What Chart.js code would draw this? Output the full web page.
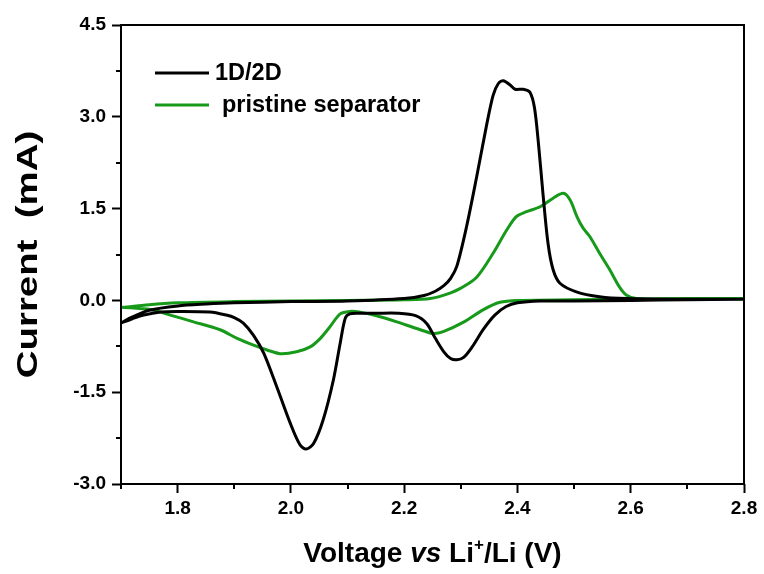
<!DOCTYPE html>
<html><head><meta charset="utf-8">
<script src="https://cdn.jsdelivr.net/npm/chart.js@4.4.1/dist/chart.umd.min.js"></script>
<style>html,body{margin:0;padding:0;background:#fff}#wrap{width:764px;height:574px;position:relative}</style>
</head><body><div id="wrap"><canvas id="c" width="764" height="574"></canvas></div>
<script>
// ---- data ----
const seriesLabels = ['1D/2D', 'pristine separator'];
const seriesColors = ['#000000', '#17991a'];

// 1D/2D : anodic sweep 1.7 -> 2.8, then cathodic sweep 2.8 -> 1.7
const voltage1D2D = [1.70,1.72,1.75,1.80,1.85,1.90,2.00,2.10,2.20,2.235,2.255,2.270,2.282,2.293,2.310,2.328,2.345,2.357,2.366,2.375,2.387,2.396,2.410,2.422,2.430,2.437,2.445,2.454,2.463,2.475,2.504,2.545,2.592,2.70,2.80,
  2.70,2.60,2.50,2.44,2.40,2.38,2.36,2.34,2.32,2.305,2.293,2.282,2.27,2.255,2.24,2.22,2.19,2.15,2.12,2.104,2.096,2.087,2.075,2.057,2.040,2.027,2.016,1.999,1.975,1.952,1.934,1.916,1.90,1.886,1.857,1.80,1.77,1.74,1.72,1.70];
const current1D2D = [-0.37,-0.27,-0.16,-0.09,-0.06,-0.04,-0.02,-0.01,0.03,0.08,0.15,0.24,0.36,0.56,1.20,2.02,2.84,3.35,3.54,3.59,3.52,3.45,3.45,3.40,3.15,2.57,1.75,0.93,0.50,0.28,0.14,0.06,0.03,0.02,0.02,
  0.01,0.00,-0.01,-0.01,-0.04,-0.10,-0.24,-0.47,-0.76,-0.93,-0.97,-0.95,-0.84,-0.62,-0.38,-0.25,-0.21,-0.21,-0.21,-0.22,-0.29,-0.70,-1.30,-1.95,-2.34,-2.43,-2.36,-2.01,-1.41,-0.86,-0.57,-0.37,-0.28,-0.24,-0.19,-0.18,-0.19,-0.24,-0.30,-0.37];

// pristine separator
const voltagePristine = [1.70,1.75,1.80,1.90,2.00,2.10,2.20,2.246,2.281,2.300,2.328,2.357,2.381,2.398,2.416,2.440,2.463,2.481,2.493,2.505,2.516,2.528,2.545,2.563,2.580,2.592,2.610,2.70,2.80,
  2.70,2.60,2.50,2.40,2.369,2.340,2.304,2.269,2.251,2.222,2.187,2.151,2.120,2.104,2.087,2.069,2.052,2.034,2.010,1.981,1.958,1.934,1.905,1.875,1.828,1.787,1.752,1.70];
const currentPristine = [-0.12,-0.07,-0.04,-0.02,-0.01,0.00,0.01,0.03,0.12,0.20,0.38,0.77,1.15,1.37,1.45,1.53,1.67,1.75,1.64,1.37,1.18,1.04,0.77,0.50,0.22,0.09,0.03,0.03,0.03,
  0.03,0.02,0.01,0.00,-0.03,-0.15,-0.36,-0.51,-0.54,-0.46,-0.35,-0.25,-0.19,-0.18,-0.22,-0.43,-0.62,-0.76,-0.84,-0.87,-0.81,-0.73,-0.62,-0.48,-0.35,-0.24,-0.15,-0.11];

const xTickLabels = ['1.8','2.0','2.2','2.4','2.6','2.8'];
const yTickLabels = ['-3.0','-1.5','0.0','1.5','3.0','4.5'];
const yAxisTitle = 'Current  (mA)';
const xAxisTitleParts = [
  {text: 'Voltage ', style: 'normal'},
  {text: 'vs', style: 'italic'},
  {text: ' Li', style: 'normal'},
  {text: '+', style: 'sup'},
  {text: '/Li (V)', style: 'normal'}
];

// ---- build ----
const toPoints = (xs, ys) => xs.map((v, i) => ({x: v, y: ys[i]}));
const FONT = '"Liberation Sans", Arial, sans-serif';
const fmt = v => (Math.abs(v) < 1e-9 ? 0 : v).toFixed(1);
const isMajorX = v => xTickLabels.includes(fmt(v));
const isMajorY = v => yTickLabels.includes(fmt(v));

const decorPlugin = {
  id: 'decor',
  afterDraw(chart) {
    const {ctx, chartArea: a, scales} = chart;
    ctx.save();
    ctx.strokeStyle = '#000';
    ctx.lineWidth = 2;
    ctx.strokeRect(a.left, a.top, a.right - a.left, a.bottom - a.top);
    // minor ticks
    ctx.beginPath();
    scales.x.ticks.forEach((t, i) => {
      if (!isMajorX(t.value)) {
        const px = Math.round(scales.x.getPixelForTick(i));
        ctx.moveTo(px, a.bottom); ctx.lineTo(px, a.bottom + 5);
      }
    });
    scales.y.ticks.forEach((t, i) => {
      if (!isMajorY(t.value)) {
        const py = Math.round(scales.y.getPixelForTick(i));
        ctx.moveTo(a.left - 5, py); ctx.lineTo(a.left, py);
      }
    });
    ctx.stroke();

    ctx.fillStyle = '#000';
    // y axis title (rotated, wide bold face)
    ctx.save();
    ctx.translate(29, (a.top + a.bottom) / 2);
    ctx.rotate(-Math.PI / 2);
    ctx.scale(1.28, 1);
    ctx.font = `bold 30px ${FONT}`;
    ctx.textBaseline = 'middle';
    ctx.textAlign = 'center';
    ctx.fillText(yAxisTitle, 0, 0);
    ctx.restore();

    // x axis title with italic "vs" and superscript "+"
    const size = 28;
    const fontFor = s => s === 'italic' ? `italic bold ${size}px ${FONT}` : s === 'sup' ? `bold ${Math.round(size*0.6)}px ${FONT}` : `bold ${size}px ${FONT}`;
    let total = 0;
    xAxisTitleParts.forEach(p => { ctx.font = fontFor(p.style); total += ctx.measureText(p.text).width; });
    let cx = (a.left + a.right) / 2 - total / 2;
    const baseY = 562;
    ctx.textBaseline = 'alphabetic';
    ctx.textAlign = 'left';
    xAxisTitleParts.forEach(p => {
      ctx.font = fontFor(p.style);
      ctx.fillText(p.text, cx, p.style === 'sup' ? baseY - size*0.42 : baseY);
      cx += ctx.measureText(p.text).width;
    });

    // legend inside the plot area
    ctx.font = `bold 23.5px ${FONT}`;
    ctx.textBaseline = 'middle';
    chart.data.datasets.forEach((ds, i) => {
      const y = a.top + 48 + i * 32;
      ctx.strokeStyle = ds.borderColor;
      ctx.lineWidth = 3;
      ctx.beginPath();
      ctx.moveTo(a.left + 34, y); ctx.lineTo(a.left + 88, y);
      ctx.stroke();
      ctx.fillStyle = '#000';
      ctx.fillText(ds.label, a.left + 94 + i * 7, y + 1);
    });
    ctx.restore();
  }
};

new Chart(document.getElementById('c'), {
  type: 'scatter',
  data: {
    datasets: [
      {label: seriesLabels[0], data: toPoints(voltage1D2D, current1D2D), borderColor: seriesColors[0], backgroundColor: seriesColors[0]},
      {label: seriesLabels[1], data: toPoints(voltagePristine, currentPristine), borderColor: seriesColors[1], backgroundColor: seriesColors[1]}
    ].map(d => Object.assign(d, {showLine: true, pointRadius: 0, borderWidth: 3, tension: 0.3, fill: false}))
  },
  options: {
    responsive: false,
    animation: false,
    devicePixelRatio: 1,
    layout: {padding: {top: 25, right: 20, bottom: 0, left: 0}},
    plugins: {legend: {display: false}, tooltip: {enabled: false}},
    scales: {
      x: {
        type: 'linear', min: 1.7, max: 2.8,
        afterFit: s => { s.height = 90; },
        border: {display: false},
        grid: {drawOnChartArea: false, drawTicks: true, tickLength: 9, tickWidth: 2,
               tickColor: c => isMajorX(c.tick.value) ? '#000' : 'rgba(0,0,0,0)'},
        ticks: {stepSize: 0.1, autoSkip: false, maxRotation: 0, padding: 4, color: '#000',
                font: {family: FONT, size: 19, weight: 'bold'},
                callback: v => isMajorX(v) ? fmt(v) : ''}
      },
      y: {
        type: 'linear', min: -3, max: 4.5,
        afterFit: s => { s.width = 121; },
        border: {display: false},
        grid: {drawOnChartArea: false, drawTicks: true, tickLength: 9, tickWidth: 2,
               tickColor: c => isMajorY(c.tick.value) ? '#000' : 'rgba(0,0,0,0)'},
        ticks: {stepSize: 0.75, autoSkip: false, padding: 6, color: '#000',
                font: {family: FONT, size: 19, weight: 'bold'},
                callback: v => isMajorY(v) ? fmt(v) : ''},
        title: {display: false, text: yAxisTitle}
      }
    }
  },
  plugins: [decorPlugin]
});
</script></body></html>
